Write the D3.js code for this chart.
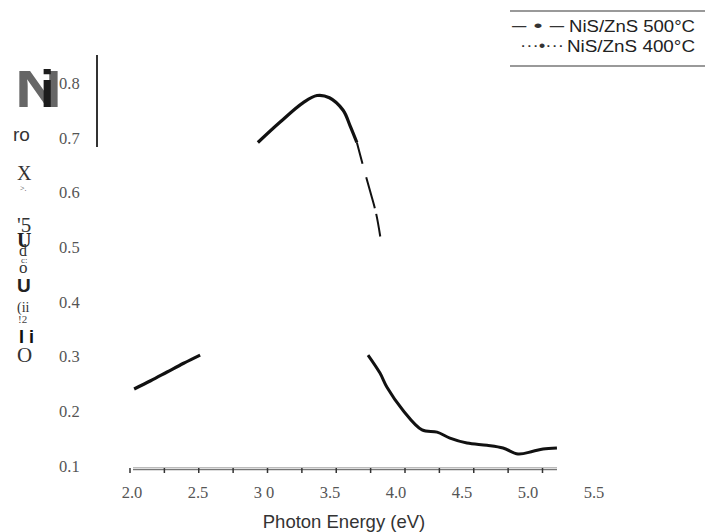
<!DOCTYPE html>
<html>
<head>
<meta charset="utf-8">
<script src="https://cdn.jsdelivr.net/npm/d3@7"></script>
<style>
	body { margin: 0; background: #fff; }
	svg { display: block; }
</style>
</head>
<body>
<div id="chart"></div>
<script>
// photon energy (eV) / absorbance pieces that survive in the picture
const seg_rise_e = [2.03, 2.15, 2.27, 2.39, 2.51]
const seg_rise_a = [0.241, 0.256, 0.272, 0.288, 0.303]

const seg_peak_e = [2.93, 3.09, 3.26, 3.36, 3.45, 3.55, 3.60, 3.65]
const seg_peak_a = [0.692, 0.729, 0.765, 0.778, 0.774, 0.751, 0.723, 0.692]

const seg_dash_e = [3.65, 3.69, 3.745, 3.79, 3.82]
const seg_dash_a = [0.692, 0.654, 0.604, 0.562, 0.520]

const seg_tail_e = [3.731, 3.818, 3.869, 3.985, 4.124, 4.233, 4.327, 4.451, 4.596, 4.713, 4.822, 4.931, 5.004, 5.105]
const seg_tail_a = [0.303, 0.270, 0.244, 0.202, 0.166, 0.162, 0.151, 0.142, 0.138, 0.133, 0.122, 0.127, 0.131, 0.133]

const x_ticks = [2.0, 2.25, 2.5, 2.75, 3.0, 3.25, 3.5, 3.75, 4.0, 4.25, 4.5, 4.75, 5.0]
const x_labels = [2.0, 2.5, 3.0, 3.5, 4.0, 4.5, 5.0, 5.5]
const x_label_text = ['2.0', '2.5', '3 0', '3.5', '4.0', '4.5', '5.0', '5.5']
const y_labels = [0.1, 0.2, 0.3, 0.4, 0.5, 0.6, 0.7, 0.8]

const legend_names = ['NiS/ZnS 500°C', 'NiS/ZnS 400°C']
const legend_marks = ['– • –', '···•···']

var width = 705
var height = 532

var svg = d3.select('#chart')
	.append('svg')
	.attr('width', width)
	.attr('height', height)

// scales
var x = d3.scaleLinear().domain([2.0, 5.0]).range([130, 542.5])
var xLabel = d3.scaleLinear().domain([2.0, 5.5]).range([132, 594])
var y = d3.scaleLinear().domain([0.1, 0.8]).range([466, 83.5])

var serif = '"Liberation Serif", "Times New Roman", serif'
var sans = '"Liberation Sans", Arial, sans-serif'

// y labels
svg.append('g')
	.selectAll('text')
	.data(y_labels)
	.enter()
	.append('text')
	.attr('x', 59)
	.attr('y', d => y(d) + 5.5)
	.style('font-family', serif)
	.style('font-size', '16.5px')
	.style('fill', '#555')
	.text(d => d3.format('.1f')(d))

// x axis: grey doubled rule + small ticks
var axisG = svg.append('g')
axisG.append('line')
	.attr('x1', 133).attr('x2', 557)
	.attr('y1', 467.5).attr('y2', 467.5)
	.attr('stroke', '#bbb').attr('stroke-width', 1)
axisG.append('line')
	.attr('x1', 133).attr('x2', 557)
	.attr('y1', 469.5).attr('y2', 469.5)
	.attr('stroke', '#777').attr('stroke-width', 1.6)
axisG.selectAll('.tick')
	.data(x_ticks)
	.enter()
	.append('line')
	.attr('class', 'tick')
	.attr('x1', d => x(d)).attr('x2', d => x(d))
	.attr('y1', 468).attr('y2', 473)
	.attr('stroke', '#333')
	.attr('stroke-width', 1.5)

svg.append('g')
	.selectAll('text')
	.data(x_labels)
	.enter()
	.append('text')
	.attr('x', d => xLabel(d))
	.attr('y', 498)
	.attr('text-anchor', 'middle')
	.style('font-family', serif)
	.style('font-size', '16.5px')
	.style('fill', '#555')
	.text((d, i) => x_label_text[i])

svg.append('text')
	.attr('x', 344)
	.attr('y', 528)
	.attr('text-anchor', 'middle')
	.style('font-family', sans)
	.style('font-size', '18.5px')
	.style('fill', '#333')
	.text('Photon Energy (eV)')

// curve pieces
var line = d3.line()
	.x(d => x(d[0]))
	.y(d => y(d[1]))
	.curve(d3.curveCatmullRom)

function pts(e, a) { return e.map((v, i) => [v, a[i]]) }

var pieces = [
	{ d: pts(seg_rise_e, seg_rise_a), w: 3.2, dash: null },
	{ d: pts(seg_peak_e, seg_peak_a), w: 3.2, dash: null },
	{ d: pts(seg_dash_e, seg_dash_a), w: 2, dash: '22,14,32,6,40' },
	{ d: pts(seg_tail_e, seg_tail_a), w: 3, dash: null }
]

svg.append('g')
	.selectAll('path')
	.data(pieces)
	.enter()
	.append('path')
	.attr('d', d => line(d.d))
	.attr('fill', 'none')
	.attr('stroke', '#111')
	.attr('stroke-width', d => d.w)
	.attr('stroke-dasharray', d => d.dash)
	.attr('stroke-linecap', 'butt')

// short vertical rule
svg.append('line')
	.attr('x1', 97).attr('x2', 97)
	.attr('y1', 55).attr('y2', 147)
	.attr('stroke', '#333')
	.attr('stroke-width', 2)

// garbled y-axis title glyphs
svg.append('text')
	.attr('x', 15).attr('y', 107)
	.attr('textLength', 47).attr('lengthAdjust', 'spacingAndGlyphs')
	.style('font-family', sans).style('font-weight', 'bold')
	.style('font-size', '52px').style('fill', '#666')
	.text('N')
svg.append('text')
	.attr('x', 40).attr('y', 107)
	.style('font-family', sans).style('font-weight', 'bold')
	.style('font-size', '52px').style('fill', '#1c1c1c')
	.text('i')

var glyphs = [
	{ t: 'ro', x: 13, y: 141, s: 19, f: sans, c: '#333', w: 'normal' },
	{ t: 'X', x: 17, y: 180, s: 20, f: serif, c: '#333', w: 'normal' },
	{ t: '>.', x: 20, y: 191, s: 8, f: serif, c: '#444', w: 'normal' },
	{ t: '\'5', x: 17, y: 232, s: 21, f: serif, c: '#333', w: 'normal' },
	{ t: 'U', x: 17, y: 247, s: 20, f: serif, c: '#222', w: 'bold' },
	{ t: 'd', x: 19, y: 256, s: 16, f: serif, c: '#333', w: 'normal' },
	{ t: 'c:', x: 21, y: 263, s: 9, f: serif, c: '#444', w: 'normal' },
	{ t: 'o', x: 19, y: 273, s: 17, f: serif, c: '#333', w: 'normal' },
	{ t: 'U', x: 17, y: 292, s: 19, f: sans, c: '#222', w: 'bold' },
	{ t: '(ii', x: 17, y: 312, s: 14, f: serif, c: '#333', w: 'normal' },
	{ t: '!2', x: 18, y: 323, s: 11, f: serif, c: '#444', w: 'normal' },
	{ t: 'I i', x: 19, y: 343, s: 18, f: sans, c: '#111', w: 'bold' },
	{ t: 'O', x: 17, y: 362, s: 21, f: serif, c: '#333', w: 'normal' }
]
svg.append('g')
	.selectAll('text')
	.data(glyphs)
	.enter()
	.append('text')
	.attr('x', d => d.x)
	.attr('y', d => d.y)
	.style('font-family', d => d.f)
	.style('font-size', d => d.s + 'px')
	.style('font-weight', d => d.w)
	.style('fill', d => d.c)
	.text(d => d.t)

// legend
var legend = svg.append('g')
legend.append('line')
	.attr('x1', 510).attr('x2', 705).attr('y1', 11).attr('y2', 11)
	.attr('stroke', '#777').attr('stroke-width', 1.5)
legend.append('line')
	.attr('x1', 510).attr('x2', 705).attr('y1', 66).attr('y2', 66)
	.attr('stroke', '#777').attr('stroke-width', 1.5)
legend.selectAll('.lname')
	.data(legend_names)
	.enter()
	.append('text')
	.attr('class', 'lname')
	.attr('x', (d, i) => i == 0 ? 569 : 567)
	.attr('y', (d, i) => 32 + i * 20)
	.attr('textLength', (d, i) => i == 0 ? 126 : 128)
	.attr('lengthAdjust', 'spacingAndGlyphs')
	.style('font-family', sans)
	.style('font-size', '16px')
	.style('fill', '#222')
	.text(d => d)
legend.selectAll('.lmark')
	.data(legend_marks)
	.enter()
	.append('text')
	.attr('class', 'lmark')
	.attr('x', (d, i) => i == 0 ? 512 : 520)
	.attr('y', (d, i) => 31 + i * 20)
	.attr('textLength', (d, i) => i == 0 ? 52 : 44)
	.attr('lengthAdjust', 'spacingAndGlyphs')
	.style('font-family', sans)
	.style('font-size', '16px')
	.style('fill', '#333')
	.text(d => d)
</script>
</body>
</html>
